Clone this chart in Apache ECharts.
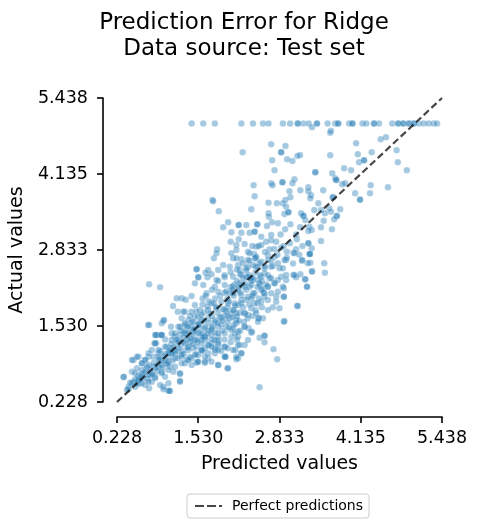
<!DOCTYPE html>
<html>
<head>
<meta charset="utf-8">
<script src="https://cdn.jsdelivr.net/npm/echarts@6/dist/echarts.min.js"></script>
<style>html,body{margin:0;padding:0;background:#fff}#c{width:477px;height:528px}</style>
</head>
<body>
<div id="c"></div>
<script>
var titleLines = ['Prediction Error for Ridge', 'Data source: Test set'];
var xTicks = [0.228, 1.530, 2.833, 4.135, 5.438];
var yTicks = [0.228, 1.530, 2.833, 4.135, 5.438];
var lineName = 'Perfect predictions';
var perfectLine = [[0.228, 0.228], [5.438, 5.438]];

// predicted values for the capped targets (actual = 5.00001)
var cappedPred = [1.424,1.611,1.796,2.222,2.408,2.568,2.657,2.887,3.003,3.126,3.126,3.215,3.301,3.434,3.434,3.604,3.726,3.774,3.774,3.949,4.003,4.003,4.163,4.226,4.348,4.348,4.427,4.641,4.737,4.737,4.817,4.817,4.906,4.906,4.986,4.986,5.065,5.145,5.225,5.305,5.359];
var cappedActual = 5.00001;

// [predicted, actual]
var pointsUpper = [
[3.354,4.936],[3.657,4.877],[3.646,4.843],[2.700,4.644],[2.928,4.615],[2.860,4.507],[2.860,4.507],[2.242,4.507],
[3.163,4.461],[3.120,4.444],[2.955,4.387],[3.040,4.358],[2.716,4.370],[3.646,4.456],[4.061,4.661],[4.455,4.730],
[4.540,4.764],[4.088,4.473],[4.311,4.507],[4.710,4.542],[4.108,4.336],[4.188,4.370],[4.188,4.370],[4.730,4.336],
[4.874,4.199],[2.753,4.199],[3.407,4.165],[3.407,4.165],[3.869,4.233],[3.981,4.199],[3.678,4.147],[3.726,4.062],
[3.742,4.033],[3.742,4.033],[3.072,4.045],[3.040,3.976],[2.880,3.993],[2.880,3.993],[2.700,3.976],[2.721,3.942],
[2.418,3.942],[3.837,3.959],[3.885,3.976],[4.295,3.942],[4.571,3.908],[2.992,3.839],[3.167,3.856],[3.295,3.908],
[3.295,3.839],[3.534,3.856],[4.045,3.805],[4.284,3.805],[2.434,3.753],[3.008,3.736],[3.338,3.770],[1.759,3.690],
[2.928,3.690],[3.694,3.736],[4.124,3.702]
];

var pointsMiddle = [
[3.327,3.719],[3.455,3.633],[3.684,3.736],[4.124,3.690],[1.770,3.667],[1.860,3.496],[2.381,3.530],[2.657,3.644],
[2.791,3.633],[2.887,3.633],[2.939,3.575],[2.912,3.450],[2.976,3.479],[2.976,3.479],[2.657,3.462],[2.663,3.404],
[3.179,3.462],[3.215,3.421],[3.215,3.421],[3.247,3.347],[3.391,3.518],[3.498,3.518],[3.561,3.462],[3.630,3.548],
[3.657,3.489],[3.753,3.416],[3.753,3.416],[3.710,3.359],[3.806,3.530],[3.541,3.335],[3.498,3.222],[3.673,3.188],
[3.311,3.232],[3.349,3.176],[3.295,3.159],[3.163,3.222],[3.110,3.016],[2.923,3.188],[3.008,3.273],[2.807,3.291],
[2.711,3.308],[2.632,3.244],[2.700,3.090],[2.780,2.975],[2.860,2.872],[2.951,2.804],[3.056,2.787],[3.099,2.845],
[3.295,2.948],[3.295,2.948],[3.322,2.764],[3.349,2.862],[3.498,2.987],[3.195,2.650],[3.327,2.615],[3.550,2.605],
[3.354,2.473],[3.561,2.444],[2.939,2.662],[3.056,2.404],[3.099,2.365],[3.242,2.331],[3.274,2.204],[3.274,2.204],
[2.903,2.177],[2.179,3.261],[2.179,3.261],[2.301,3.261],[2.477,3.273],[2.477,3.273],[2.010,3.308],[1.930,3.222],
[2.062,3.136],[2.354,3.130],[2.434,3.147],[2.434,3.147],[2.222,3.130],[2.179,3.016],[2.051,2.975],[2.274,2.936],
[2.541,3.061],[2.620,2.975],[2.541,2.919],[2.461,2.890],[2.397,2.902],[2.142,2.919],[1.834,2.845],[1.823,2.776],
[2.062,2.776],[2.142,2.833],[2.328,2.804],[2.424,2.764],[2.673,2.845],[1.780,2.691],[2.089,2.691],[2.222,2.673],
[2.328,2.662],[2.445,2.691],[2.445,2.691],[2.541,2.633],[2.647,2.662],[2.727,2.559],[2.833,2.519],[2.593,2.519],
[2.488,2.536],[2.328,2.547],[2.169,2.576],[2.035,2.547],[1.930,2.576],[1.850,2.490],[1.691,2.490],[1.504,2.502],
[1.504,2.502],[1.531,2.365],[1.531,2.365],[1.648,2.444],[1.679,2.365],[1.743,2.416],[1.823,2.319],[1.955,2.365],
[2.089,2.375],[2.222,2.404],[2.328,2.365],[2.408,2.319],[2.541,2.375],[2.673,2.348],[2.753,2.262],[2.647,2.204],
[2.514,2.233],[2.354,2.204],[2.222,2.233],[2.089,2.204],[1.955,2.233],[1.796,2.204],[1.611,2.233],[1.477,2.262],
[0.743,2.245],[0.919,2.194],[1.185,2.005],[1.265,2.005],[1.424,2.045],[1.663,2.091],[1.850,2.119],[2.035,2.091],
[2.222,2.062],[2.408,2.091],[2.593,2.091],[2.780,2.033],[2.903,2.033],[2.903,2.033]
];

var pointsRight = [
[3.354,2.461],[3.285,2.605],[3.195,2.662],[3.317,2.764],[3.317,2.764],[3.072,2.776],[3.247,2.331],[3.168,2.416],
[3.072,2.404],[3.115,1.873],[3.126,1.873],[2.912,1.616],[2.903,1.604],[2.737,1.131],[2.796,0.960],[2.514,0.480],
[2.593,1.364],[2.593,1.251],[2.514,1.330],[2.381,1.416],[2.328,1.290],[2.274,1.205],[2.195,1.205],[2.222,1.063],
[2.169,0.977],[2.126,1.119],[2.833,1.834],[2.727,1.851],[2.647,1.805],[2.780,1.947],[2.568,1.662],[2.498,1.662],
[2.498,1.662],[2.488,1.604],[2.392,1.433],[2.338,1.491],[2.274,1.518],[2.274,1.518],[2.274,1.748],[2.274,1.748],
[2.200,1.760],[2.328,1.719],[2.381,1.834],[2.434,1.919],[2.541,1.947],[2.647,1.976],[2.593,2.033],[2.700,2.091],
[2.807,2.119],[2.887,2.204],[2.939,2.319],[2.860,2.375],[2.807,2.319],[2.753,2.262],[2.647,2.204],[2.541,2.147],
[2.434,2.091],[2.328,2.033],[2.222,1.976],[2.115,1.919],[2.142,1.748],[2.062,1.462],[2.142,1.577],[2.169,1.347],
[2.381,2.233],[2.274,2.204],[2.169,2.147],[2.089,2.091],[2.195,2.490],[2.301,2.519],[2.408,2.576],[2.514,2.605],
[2.593,2.434],[2.700,2.547],[2.807,2.605],[2.887,2.519],[2.939,2.404],[2.912,2.662],[2.753,2.719],[2.647,2.747],
[2.461,2.719],[2.354,2.776],[2.142,2.691],[2.381,2.348],[2.488,2.319],[2.700,2.348],[2.514,2.262],[2.301,2.375],
[2.195,2.262],[2.104,2.233]
];

var pointsLower = [
[2.593,1.364],[2.222,1.063],[2.142,0.960],[1.998,0.805],[1.850,0.862],[1.966,1.004],[1.966,1.004],[1.796,1.063],
[1.691,0.977],[1.637,0.901],[1.504,0.901],[1.584,1.119],[1.850,1.205],[1.955,1.176],[1.238,0.708],[1.238,0.593],
[1.052,0.422],[0.973,0.490],[0.743,0.463],[0.574,0.536],[0.494,0.948],[0.335,0.651],[0.415,0.451],[0.743,1.548],
[0.866,1.376],[0.946,1.376],[0.829,1.234],[0.973,1.621],[1.201,1.776],[1.317,1.776],[1.094,1.518],[1.531,1.690],
[0.946,1.577],[0.982,1.633],[0.855,1.376],[0.935,1.376],[0.855,1.234],[0.574,1.004],[0.467,0.747],[0.547,0.805],
[0.627,0.891],[0.679,0.948],[0.654,0.720],[0.600,0.605],[0.494,0.576],[0.520,0.490],[0.679,0.519],[0.786,0.576],
[0.759,0.691],[0.839,0.662],[0.919,0.519],[0.998,0.662],[0.946,0.747],[0.813,0.833],[0.734,1.004],[0.786,1.119],
[0.893,1.063],[0.919,0.948],[1.026,0.891],[1.078,0.833],[1.132,0.747],[1.062,0.422],[1.026,1.176],[1.105,1.119],
[1.185,1.234],[1.158,1.063],[1.265,1.004],[1.317,0.891],[1.424,0.862],[1.520,0.919],[1.424,0.977],[1.531,1.033],
[1.637,0.919],[1.743,0.919],[1.690,1.063],[1.850,0.862],[1.796,1.119],[1.955,1.004],[2.009,0.805],[1.637,1.148],
[1.504,1.176],[1.372,1.176],[1.292,1.261],[1.397,1.320],[1.477,1.290],[1.584,1.234],[1.743,1.234],[1.850,1.234],
[1.955,1.176],[2.089,1.119],[2.142,1.004],[2.169,1.205],[2.062,1.347],[1.955,1.405],[1.850,1.347],[1.743,1.376],
[1.637,1.347],[1.557,1.405],[1.451,1.433],[1.344,1.405],[1.238,1.376],[1.105,1.405],[1.212,1.518],[1.317,1.548],
[1.424,1.518],[1.531,1.548],[1.637,1.518],[1.743,1.491],[1.850,1.518],[1.982,1.518],[2.089,1.491],[2.169,1.433],
[2.142,1.633],[2.035,1.662],[1.903,1.662],[1.796,1.633],[1.690,1.662],[1.584,1.633],[1.477,1.690],[1.372,1.633],
[1.265,1.662],[1.292,1.776],[1.424,1.776],[1.557,1.805],[1.690,1.805],[1.823,1.834],[1.955,1.805],[2.089,1.805],
[2.169,1.890],[2.009,1.919],[1.743,1.919],[1.477,1.890],[1.126,1.873],[1.330,1.980],[1.600,2.000],
[0.700,0.800],[0.620,0.700],[0.720,0.620],[0.570,0.680],[0.880,0.860],[0.960,0.930],[1.050,1.000],[1.120,1.050],
[1.080,1.150],[1.200,1.100],[1.000,1.300],[1.150,1.350],[1.250,1.450],[1.350,1.520],[1.400,1.250],[1.500,1.300],
[1.750,1.700],[1.850,1.750],[1.950,1.700],[2.050,1.750],[2.150,1.700],[1.900,1.550],[2.000,1.600],[2.100,1.550],
[1.700,1.450],[1.800,1.420],[1.920,1.450],[2.020,1.500],[2.120,1.400],[2.200,1.450],[1.600,1.400],[1.650,1.300],
[1.750,1.300],[1.850,1.280],[1.950,1.300],[2.050,1.250],[2.150,1.300],[1.700,1.200],[1.800,1.150],[1.900,1.100],
[2.000,1.150],[1.600,1.100],[1.500,1.050],[1.450,1.150],[1.400,1.000],[1.350,0.950],[1.300,1.050],[1.550,1.500],
[1.450,1.400],[1.350,1.300],[1.250,1.200],[1.150,1.100],[1.000,1.050],
[1.900,1.950],[2.000,2.000],[2.100,2.050],[2.200,2.100],[2.300,2.150],[2.400,2.050],[2.500,2.000],[1.950,2.100],
[2.050,2.200],[2.150,2.300],[2.250,2.350],[2.350,2.400],[2.450,2.450],[2.550,2.300],[2.650,2.400],[2.000,1.850],
[2.100,1.800],[2.250,1.850],[2.350,1.900],[2.450,1.800],[2.550,1.850],[1.800,2.000],[1.700,1.950],[1.600,1.900],
[1.650,2.050],[1.750,2.150],[1.850,2.300],[1.950,2.400],[2.050,2.450],[2.150,2.500],[2.250,2.600],[2.350,2.650],
[2.450,2.550],[2.600,2.550],[2.700,2.650],[2.800,2.750],[2.900,2.900],[3.000,2.950],[2.750,2.850],[2.950,2.700],
[3.050,2.600],[3.150,2.750],[3.200,2.900],[2.600,2.800],[2.500,2.900],[2.700,3.000],[2.850,3.100],[3.100,3.100]
];

var pointsCore = [
[0.728,1.548],[0.839,1.376],[0.946,1.376],[0.839,1.234],[0.547,1.004],[0.467,0.948],[0.335,0.662],[0.415,0.490],
[0.388,0.434],[0.520,0.720],[0.627,0.776],[0.707,0.833],[0.679,0.948],[0.734,1.063],[0.813,1.004],[0.893,1.119],
[0.998,1.176],[1.105,1.290],[1.158,1.405],[1.238,1.518],[1.317,1.577],[1.424,1.604],[1.531,1.548],[1.637,1.491],
[1.743,1.462],[1.850,1.405],[1.796,1.290],[1.690,1.205],[1.584,1.119],[1.477,1.033],[1.372,0.948],[1.265,0.891],
[1.158,0.833],[1.052,0.776],[0.946,0.720],[0.839,0.634],[0.734,0.576],[0.627,0.548],[0.574,0.634],[0.786,0.720],
[0.893,0.833],[0.998,0.948],[1.105,1.063],[1.212,1.148],[1.317,1.234],[1.424,1.320],[1.531,1.405],[1.637,1.347],
[1.743,1.176],[1.850,1.119],[1.637,1.004],[1.531,0.919],[1.238,0.720],[1.238,0.576],[1.052,0.548],[0.973,0.445],
[1.078,0.416],[0.627,0.891],[0.893,1.004],[1.052,1.063],[1.212,1.290],[1.317,1.405],[1.372,1.518],[1.477,1.462],
[1.584,1.290],[1.372,1.119],[1.265,1.033],[1.158,0.977],[1.052,0.919],[0.946,0.862],[0.839,0.805],[0.734,0.691],
[0.654,0.634],[0.467,0.548],[0.547,0.548],
[1.70,1.58],[1.80,1.60],[1.88,1.68],[1.98,1.78],[2.08,1.68],[2.18,1.62],[2.26,1.60],[2.32,1.66],
[2.40,1.70],[2.46,1.75],[1.72,1.75],[1.82,1.85],[1.92,1.82],[2.02,1.95],[2.12,1.88],[2.22,1.92],
[2.30,1.98],[2.38,2.00],[2.48,1.92],[2.58,2.10],[1.62,1.76],[1.68,1.86],[1.78,1.92],[1.88,2.05],
[1.98,2.12],[2.08,2.15],[2.18,2.20],[2.28,2.26],[2.38,2.30],[2.48,2.20],[2.56,2.16],[2.62,2.24],
[2.20,2.42],[2.30,2.48],[2.40,2.36],[2.52,2.40],[1.45,1.60],[1.40,1.70],[1.50,1.78],[1.58,1.72],
[0.62,0.66],[0.68,0.74],[0.76,0.78],[0.82,0.90],[0.90,0.96],[0.98,1.02],[1.06,1.10],[1.14,1.16],
[1.22,1.26],[1.30,1.34],[1.38,1.42],[1.46,1.48],[0.80,0.70],[0.88,0.76],[0.96,0.82],[1.04,0.88],
[1.12,0.94],[1.20,0.98],[1.28,1.10],[1.36,1.16],[1.44,1.22],[1.52,1.26],[1.60,1.34],[1.68,1.40],
[1.76,1.52],[1.84,1.58],[1.92,1.62],[2.00,1.70],[1.62,1.62],[1.54,1.58],[1.30,1.44],[1.18,1.30],
[1.10,1.22],[0.92,1.10],[0.74,0.86],[0.58,0.60],[0.52,0.62],[0.44,0.56]
];

var scatterData = [];
cappedPred.forEach(function (p) { scatterData.push([p, cappedActual]); });
[pointsUpper, pointsMiddle, pointsRight, pointsLower, pointsCore].forEach(function (arr) {
  arr.forEach(function (d) { scatterData.push(d); });
});

var font = 'DejaVu Sans';
var lineColor = 'rgba(0,0,0,0.72)';
var chart = echarts.init(document.getElementById('c'), null, {renderer: 'canvas'});
chart.setOption({
  animation: false,
  backgroundColor: '#ffffff',
  title: {
    text: titleLines.join('\n'),
    left: 239, top: 5, textAlign: 'center',
    textStyle: {fontFamily: font, fontSize: 23, fontWeight: 'normal', color: '#000', lineHeight: 26}
  },
  legend: {
    data: [{name: lineName, icon: 'path://M0,0h9v2h-9z M12,0h9v2h-9z M24,0h3v2h-3z'}],
    left: 187, bottom: 10,
    orient: 'horizontal',
    borderColor: '#cccccc', borderWidth: 1, borderRadius: 3,
    padding: [5, 6, 5, 8],
    itemWidth: 27, itemHeight: 2,
    textStyle: {fontFamily: font, fontSize: 14, color: '#000', padding: [0, 0, 0, 5]}
  },
  grid: {left: 115, right: 35, top: 98, bottom: 126, containLabel: false},
  xAxis: {
    type: 'value', min: 0.228, max: 5.438, offset: 15,
    name: 'Predicted values', nameLocation: 'middle', nameGap: 38,
    nameTextStyle: {fontFamily: font, fontSize: 19, color: '#000'},
    axisLine: {show: true, onZero: false, lineStyle: {color: '#000', width: 1.6}},
    axisTick: {show: true, length: 6, inside: false, customValues: xTicks, lineStyle: {color: '#000', width: 1.6}},
    axisLabel: {customValues: xTicks, fontFamily: font, fontSize: 17.5, color: '#000', margin: 12,
      formatter: function (v) { return v.toFixed(3); }, showMinLabel: true, showMaxLabel: true},
    splitLine: {show: false}
  },
  yAxis: {
    type: 'value', min: 0.228, max: 5.438, offset: 14,
    name: 'Actual values', nameLocation: 'middle', nameGap: 75,
    nameTextStyle: {fontFamily: font, fontSize: 19, color: '#000'},
    axisLine: {show: true, onZero: false, lineStyle: {color: '#000', width: 1.6}},
    axisTick: {show: true, length: 6, inside: false, customValues: yTicks, lineStyle: {color: '#000', width: 1.6}},
    axisLabel: {customValues: yTicks, fontFamily: font, fontSize: 17.5, color: '#000', margin: 15,
      formatter: function (v) { return v.toFixed(3); }, showMinLabel: true, showMaxLabel: true},
    splitLine: {show: false}
  },
  series: [
    {
      type: 'scatter', name: 'points', data: scatterData, symbolSize: 6.5,
      itemStyle: {color: 'rgba(31,119,180,0.5)', borderColor: 'rgba(255,255,255,0.5)', borderWidth: 0.4},
      z: 2
    },
    {
      type: 'line', name: lineName, data: perfectLine, symbol: 'none', showSymbol: false,
      lineStyle: {color: lineColor, width: 2.2, type: [7, 3.5]},
      itemStyle: {color: lineColor},
      z: 3
    }
  ]
});
</script>
</body>
</html>
